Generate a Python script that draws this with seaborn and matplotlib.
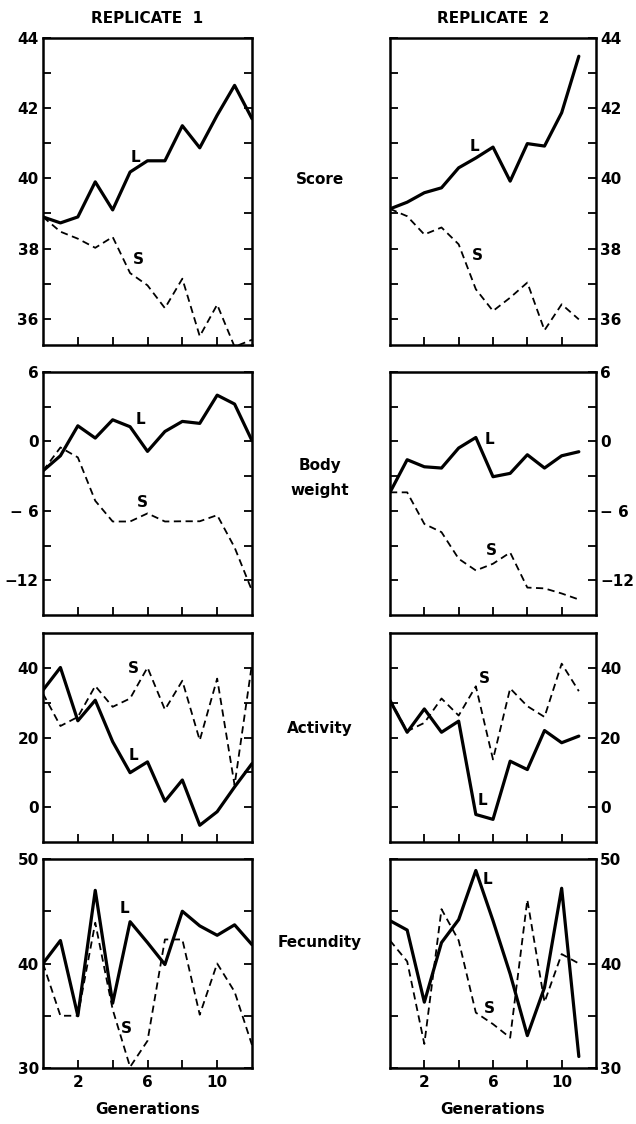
import numpy as np
import pandas as pd
import matplotlib
matplotlib.use("Agg")
import matplotlib.pyplot as plt
from matplotlib.ticker import FixedLocator
import seaborn as sns

sns.set_theme(style="white")
plt.rcParams['font.family'] = ['DejaVu Sans']
plt.rcParams['text.color'] = 'black'
plt.rcParams['axes.labelcolor'] = 'black'
plt.rcParams['font.weight'] = 'bold'

# ---------------- data ----------------
gen_rep1 = list(range(0, 13))
gen_rep2 = list(range(0, 12))

score_L_rep1 = [38.9, 38.73, 38.9, 39.9, 39.1, 40.18, 40.5, 40.5, 41.5, 40.87, 41.8, 42.65, 41.7]
score_S_rep1 = [38.9, 38.48, 38.28, 38.02, 38.33, 37.3, 36.95, 36.3, 37.14, 35.5, 36.4, 35.2, 35.4]
score_L_rep2 = [39.13, 39.32, 39.59, 39.73, 40.3, 40.58, 40.89, 39.92, 40.99, 40.92, 41.87, 43.48]
score_S_rep2 = [39.13, 38.92, 38.4, 38.6, 38.12, 36.84, 36.22, 36.6, 37.03, 35.67, 36.41, 35.98]

body_L_rep1 = [-2.54, -1.24, 1.35, 0.29, 1.87, 1.27, -0.86, 0.86, 1.73, 1.56, 4.0, 3.23, 0.06]
body_S_rep1 = [-2.54, -0.52, -1.38, -5.13, -6.92, -6.92, -6.22, -6.92, -6.9, -6.9, -6.37, -9.16, -12.9]
body_L_rep2 = [-4.4, -1.58, -2.19, -2.3, -0.57, 0.34, -3.05, -2.76, -1.15, -2.3, -1.24, -0.89]
body_S_rep2 = [-4.4, -4.4, -7.13, -7.84, -10.14, -11.15, -10.57, -9.6, -12.63, -12.7, -13.14, -13.66]

act_L_rep1 = [33.6, 40.1, 24.8, 30.7, 18.8, 9.9, 13.0, 1.7, 7.8, -5.2, -1.3, 5.8, 12.5]
act_S_rep1 = [32.6, 23.3, 25.9, 34.8, 28.8, 31.2, 40.1, 28.0, 36.3, 19.2, 36.9, 6.3, 41.2]
act_L_rep2 = [30.6, 21.5, 28.2, 21.5, 24.7, -2.1, -3.5, 13.2, 10.8, 22.0, 18.5, 20.4]
act_S_rep2 = [30.9, 21.8, 24.2, 31.2, 26.3, 34.7, 13.7, 34.1, 29.0, 25.9, 41.2, 33.3]

fec_L_rep1 = [40.0, 42.2, 35.0, 47.0, 36.2, 44.0, 42.0, 39.9, 45.0, 43.6, 42.7, 43.7, 41.8]
fec_S_rep1 = [40.0, 35.0, 35.0, 43.9, 35.6, 30.1, 32.6, 42.3, 42.3, 35.1, 40.0, 37.3, 32.2]
fec_L_rep2 = [44.1, 43.2, 36.3, 42.0, 44.2, 48.9, 44.1, 39.0, 33.1, 37.7, 47.2, 31.1]
fec_S_rep2 = [42.2, 40.2, 32.3, 45.2, 42.2, 35.3, 34.2, 32.9, 46.1, 36.3, 40.9, 40.0]

traits = ["Score", "Body\nweight", "Activity", "Fecundity"]
col_titles = ["REPLICATE  1", "REPLICATE  2"]
x_label = "Generations"
x_tick_labels = ["2", "6", "10"]

# ---------------- layout / styles ----------------
W, H = 636, 1124
fig = plt.figure(figsize=(W / 100, H / 100), dpi=100)

rows_px = [(38, 345), (372, 615), (633, 842), (859, 1068)]
cols_px = [(43, 252), (390, 596)]

ylims = [(35.25, 44), (-15, 6), (-10, 50), (30, 50)]
ymajor = [[36, 38, 40, 42, 44], [-12, -6, 0, 6], [0, 20, 40], [30, 40, 50]]
yminor = [[37, 39, 41, 43], [-9, -3, 3], [10, 30], [35, 45]]
ylabels = [["36", "38", "40", "42", "44"], ["\u221212", "\u2212 6", "0", "6"],
           ["0", "20", "40"], ["30", "40", "50"]]

series = [
    [(score_L_rep1, score_S_rep1), (score_L_rep2, score_S_rep2)],
    [(body_L_rep1, body_S_rep1), (body_L_rep2, body_S_rep2)],
    [(act_L_rep1, act_S_rep1), (act_L_rep2, act_S_rep2)],
    [(fec_L_rep1, fec_S_rep1), (fec_L_rep2, fec_S_rep2)],
]

# label positions (L, S) per panel
lab_pos = [
    [((5.3, 40.6), (5.5, 37.7)), ((4.9, 40.9), (5.1, 37.8))],
    [((5.6, 1.9), (5.7, -5.3)), ((5.8, 0.2), (5.9, -9.4))],
    [((5.2, 14.9), (5.2, 39.8)), ((5.4, 2.0), (5.5, 37.0))],
    [((4.7, 45.3), (4.8, 33.8)), ((5.7, 48.0), (5.8, 35.7))],
]

fs = 11
for r in range(4):
    yt, yb = rows_px[r]
    for c in range(2):
        xl, xr = cols_px[c]
        ax = fig.add_axes([xl / W, 1 - yb / H, (xr - xl) / W, (yb - yt) / H])
        gens = gen_rep1 if c == 0 else gen_rep2
        L, S = series[r][c]
        df = pd.DataFrame({
            "gen": list(gens) * 2,
            "val": list(L) + list(S),
            "line": ["L"] * len(gens) + ["S"] * len(gens),
        })
        sns.lineplot(data=df[df.line == "L"], x="gen", y="val", ax=ax,
                     color="black", linewidth=2.3, legend=False)
        sns.lineplot(data=df[df.line == "S"], x="gen", y="val", ax=ax,
                     color="black", linewidth=1.3, linestyle=(0, (4, 2.5)), legend=False)
        (lx, ly), (sx, sy) = lab_pos[r][c]
        ax.text(lx, ly, "L", fontsize=fs, ha="center", va="center", color="black",
                fontweight="bold")
        ax.text(sx, sy, "S", fontsize=fs, ha="center", va="center", color="black",
                fontweight="bold")

        ax.set_xlim(0, 12)
        ax.set_ylim(*ylims[r])
        ax.xaxis.set_major_locator(FixedLocator([2, 6, 10]))
        ax.xaxis.set_minor_locator(FixedLocator([4, 8]))
        ax.yaxis.set_major_locator(FixedLocator(ymajor[r]))
        ax.yaxis.set_minor_locator(FixedLocator(yminor[r]))
        ax.set_yticklabels(ylabels[r], fontweight="bold")
        if r == 3:
            ax.set_xticklabels(x_tick_labels, fontweight="bold")
            ax.set_xlabel(x_label, fontsize=fs, labelpad=9, fontweight="bold",
                          color="black")
        else:
            ax.set_xticklabels([])
            ax.set_xlabel("")
        ax.set_ylabel("")
        ax.tick_params(axis="both", which="both", direction="in", color="black",
                       labelsize=fs, labelcolor="black")
        ax.tick_params(axis="both", which="major", length=6, width=1.3)
        ax.tick_params(axis="both", which="minor", length=6, width=1.3)
        ax.tick_params(axis="x", which="both", top=False, bottom=True, pad=5)
        if c == 0:
            ax.tick_params(axis="y", which="both", left=True, right=True,
                           labelleft=True, labelright=False, pad=3)
        else:
            ax.tick_params(axis="y", which="both", left=True, right=True,
                           labelleft=False, labelright=True, pad=3)
        for sp in ax.spines.values():
            sp.set_color("black")
            sp.set_linewidth(1.8)
            sp.set_visible(True)
        if r == 0:
            ax.set_title(col_titles[c], fontsize=fs, pad=11, fontweight="bold",
                         color="black")

# middle trait labels
mid_y = [180, 478, 728, 942]
for t, y in zip(traits, mid_y):
    fig.text(320 / W, 1 - y / H, t, ha="center", va="center", fontsize=fs,
             linespacing=1.9, fontweight="bold", color="black")

fig.savefig("out.png", dpi=100)
